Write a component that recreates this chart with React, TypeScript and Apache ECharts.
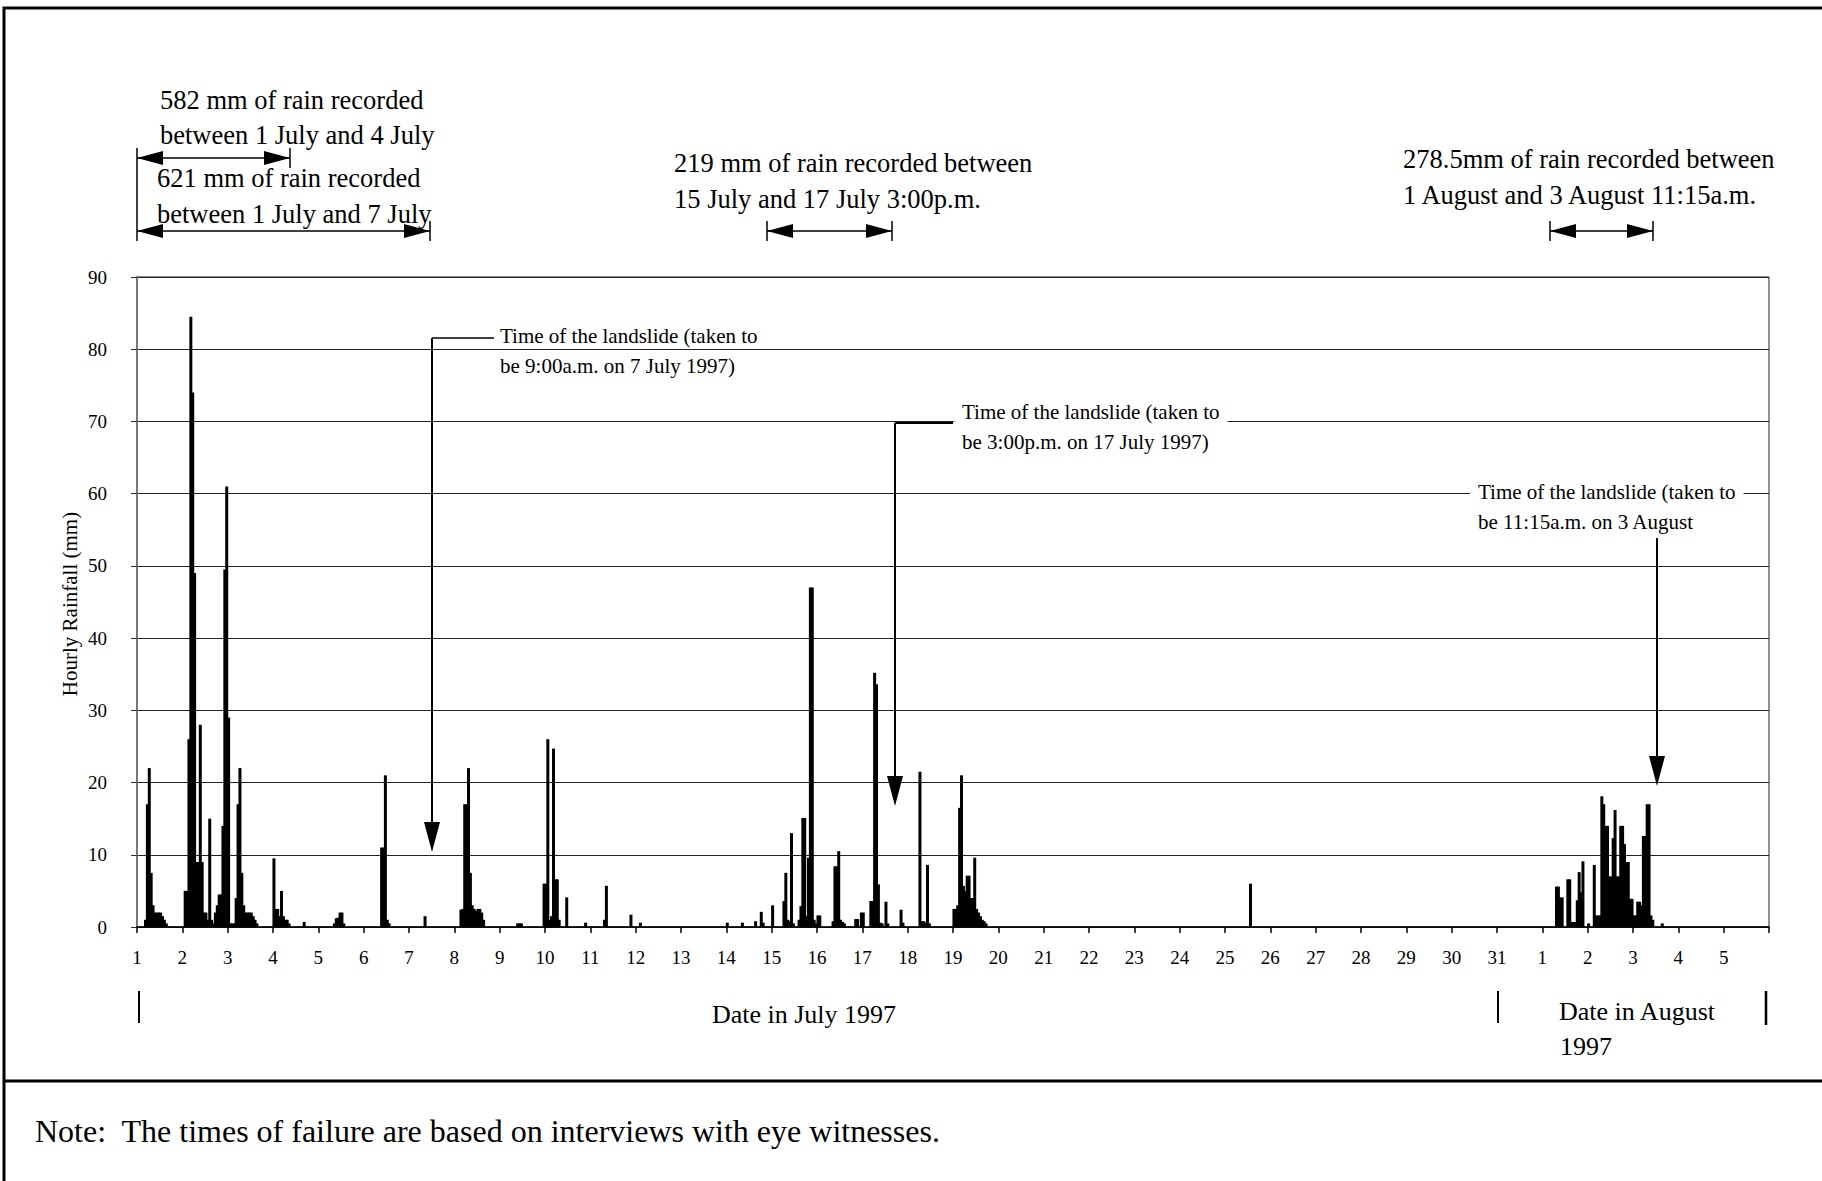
import React, { useEffect, useRef } from 'react';
import * as echarts from 'echarts';

// ---------------- DATA ----------------
// Hourly rainfall (mm). Pairs: [hour counted from 00:00 on 1 July 1997, rainfall mm]
const storm1to4July: [number, number][] = [
  [4, 1], [5, 17], [6, 22], [7, 7.5], [8, 3], [9, 2], [10, 2], [11, 2], [12, 2], [13, 1.5], [14, 1], [15, 0.5],
  [25, 5], [26, 5], [27, 26], [28, 84.5], [29, 74], [30, 49], [31, 9], [32, 9], [33, 28], [34, 9], [35, 2], [36, 2],
  [37, 1], [38, 15], [39, 1], [40, 0.5], [41, 2], [42, 3], [43, 4.5], [44, 4.5], [45, 14], [46, 49.5], [47, 61], [48, 29],
  [49, 0.5], [50, 0.5], [51, 0.5], [52, 4], [53, 17], [54, 22], [55, 7.5], [56, 3], [57, 2], [58, 2], [59, 2], [60, 2],
  [61, 1.5], [62, 1], [63, 0.5],
  [72, 9.5], [73, 2.5], [74, 2.5], [75, 1.5], [76, 5], [77, 1.5], [78, 1], [79, 1], [80, 0.5], [88, 0.7],
];
const storm5to12July: [number, number][] = [
  [104, 0.5], [105, 1.2], [106, 1.3], [107, 2], [108, 2], [109, 0.5],
  [129, 11], [130, 11], [131, 21], [132, 1], [133, 0.5],
  [152, 1.5],
  [171, 2.4], [172, 2.5], [173, 17], [174, 17], [175, 22], [176, 7.5], [177, 3], [178, 2.5], [179, 2.2], [180, 2.5],
  [181, 2.5], [182, 2], [183, 1],
  [201, 0.5], [202, 0.5], [203, 0.5],
  [215, 6], [216, 6], [217, 26], [218, 1], [219, 1.5], [220, 24.7], [221, 6.6], [222, 6.6], [223, 1], [227, 4.1],
  [237, 0.6], [247, 1], [248, 5.7], [261, 1.7], [266, 0.6],
];
const storm14to20July: [number, number][] = [
  [312, 0.6], [320, 0.6], [327, 0.8], [330, 2.1], [331, 0.6], [336, 3],
  [342, 3.6], [343, 7.5], [344, 1], [345, 0.8], [346, 13], [347, 0.5],
  [350, 1], [351, 2.9], [352, 15.1], [353, 15.1], [354, 1.5], [355, 9.6], [356, 47], [357, 47], [358, 1], [359, 0.5],
  [360, 1.6], [361, 1.6],
  [368, 0.8], [369, 8.4], [370, 8.4], [371, 10.5], [372, 1], [373, 0.7], [374, 0.5],
  [380, 1.1], [381, 1.1], [383, 2], [384, 2],
  [388, 3.6], [389, 3.6], [390, 35.2], [391, 33.6], [392, 5.9], [393, 0.6], [394, 0.5], [396, 3.5], [397, 0.5],
  [404, 2.4], [405, 0.6],
  [414, 21.5], [415, 0.8], [416, 0.8], [417, 0.6], [418, 8.6], [419, 0.5],
  [432, 2.5], [433, 2.5], [434, 3], [435, 16.5], [436, 21], [437, 5.7], [438, 5], [439, 7.1], [440, 7.1], [441, 4],
  [442, 4], [443, 9.6], [444, 2.5], [445, 2], [446, 1.5], [447, 1], [448, 0.8], [449, 0.5],
];
const storm25July: [number, number][] = [[589, 6]];
const storm1to3August: [number, number][] = [
  [751, 5.6], [752, 5.6], [753, 4.1], [754, 4.1], [757, 6.6], [758, 6.6], [759, 0.7], [760, 0.7], [761, 0.7],
  [762, 3.7], [763, 7.6], [764, 4.8], [765, 9.1], [768, 0.5],
  [771, 8.6], [772, 1.6], [773, 1.6], [774, 1.6], [775, 18.1], [776, 17], [777, 14], [778, 14], [779, 7], [780, 7],
  [781, 12.3], [782, 16.2], [783, 7], [784, 7], [785, 14], [786, 14], [787, 11.5], [788, 9], [789, 9], [790, 3.9],
  [791, 3.9], [792, 1.6], [793, 1.6], [794, 3.5], [795, 3.5], [796, 3], [797, 12.6], [798, 12.6], [799, 17], [800, 17],
  [801, 1.6], [802, 1], [807, 0.5],
];

// Day tick labels: 1..31 July, then 1..5 August, blank at right edge
const dayLabels: string[] = [
  '1', '2', '3', '4', '5', '6', '7', '8', '9', '10', '11', '12', '13', '14', '15', '16', '17', '18', '19', '20',
  '21', '22', '23', '24', '25', '26', '27', '28', '29', '30', '31',
  '1', '2', '3', '4', '5', '',
];

const yMin = 0;
const yMax = 90;
const yStep = 10;

// ---------------- LAYOUT ----------------
const W = 1822;
const H = 1181;
const PL = 137; // plot left
const PR = 1769; // plot right
const PT = 277; // plot top
const PB = 927; // plot bottom
const FONT = '"Liberation Serif", "Times New Roman", serif';

function hArrow(x1: number, x2: number, y: number, tickL: boolean, tickR: boolean, th = 10): any[] {
  const L = 26;
  const h = 7;
  const els: any[] = [
    { type: 'line', shape: { x1, y1: y, x2, y2: y }, style: { stroke: '#000', lineWidth: 1.5 } },
    { type: 'polygon', shape: { points: [[x1, y], [x1 + L, y - h], [x1 + L, y + h]] }, style: { fill: '#000' } },
    { type: 'polygon', shape: { points: [[x2, y], [x2 - L, y - h], [x2 - L, y + h]] }, style: { fill: '#000' } },
  ];
  if (tickL) els.push({ type: 'line', shape: { x1, y1: y - th, x2: x1, y2: y + th }, style: { stroke: '#000', lineWidth: 1.5 } });
  if (tickR) els.push({ type: 'line', shape: { x1: x2, y1: y - th, x2, y2: y + th }, style: { stroke: '#000', lineWidth: 1.5 } });
  return els;
}

function vArrow(x: number, y1: number, tip: number): any[] {
  const L = 30;
  const h = 8;
  return [
    { type: 'line', shape: { x1: x, y1, x2: x, y2: tip - L + 2 }, style: { stroke: '#000', lineWidth: 2 } },
    { type: 'polygon', shape: { points: [[x - h, tip - L], [x + h, tip - L], [x, tip]] }, style: { fill: '#000' } },
  ];
}

function txt(text: string, x: number, y: number, size: number, align = 'left', extra: any = {}): any {
  return {
    type: 'text',
    x,
    y,
    style: {
      text,
      fontSize: size,
      fontFamily: FONT,
      fill: '#000',
      textAlign: align,
      textVerticalAlign: 'middle',
      ...extra,
    },
  };
}

export default function App() {
  const ref = useRef<HTMLDivElement>(null);

  useEffect(() => {
    if (!ref.current) return;
    const chart = echarts.init(ref.current, null, { renderer: 'svg', width: W, height: H });

    const all = [...storm1to4July, ...storm5to12July, ...storm14to20July, ...storm25July, ...storm1to3August];
    const barData = all.map(([hr, mm]) => [1 + (hr + 0.5) / 24, mm]);

    const graphics: any[] = [
      // outer frame and separator
      { type: 'rect', shape: { x: 4, y: 8, width: W + 20, height: H + 20 }, style: { fill: 'none', stroke: '#000', lineWidth: 3 } },
      { type: 'line', shape: { x1: 4, y1: 1081, x2: W, y2: 1081 }, style: { stroke: '#000', lineWidth: 3 } },

      // top annotations
      txt('582 mm of rain recorded', 160, 100, 26.5),
      txt('between 1 July and 4 July', 160, 135, 26.5),
      txt('621 mm of rain recorded', 157, 178, 26.5),
      txt('between 1 July and 7 July', 157, 214, 26.5),
      { type: 'line', shape: { x1: PL, y1: 148, x2: PL, y2: 241 }, style: { stroke: '#000', lineWidth: 1.5 } },
      ...hArrow(PL, 290, 158, false, true),
      ...hArrow(PL, 430, 231, false, true),

      txt('219 mm of rain recorded between', 674, 163, 26.5),
      txt('15 July and 17 July 3:00p.m.', 674, 199, 26.5),
      ...hArrow(767, 892, 231, true, true),

      txt('278.5mm of rain recorded between', 1403, 159, 26.5),
      txt('1 August and 3 August 11:15a.m.', 1403, 195, 26.5),
      ...hArrow(1550, 1653, 231, true, true),

      // landslide 1
      { type: 'line', shape: { x1: 432, y1: 338, x2: 494, y2: 338 }, style: { stroke: '#000', lineWidth: 1.5 } },
      ...vArrow(432, 338, 852),
      txt('Time of the landslide (taken to', 500, 336, 21),
      txt('be 9:00a.m. on 7 July 1997)', 500, 366, 21),

      // landslide 2
      txt('Time of the landslide (taken to', 954, 412, 21, 'left', { backgroundColor: '#fff', padding: [2, 8, 2, 8] }),
      txt('be 3:00p.m. on 17 July 1997)', 962, 442, 21),
      { type: 'line', shape: { x1: 895, y1: 423, x2: 953, y2: 423 }, style: { stroke: '#000', lineWidth: 2 } },
      ...vArrow(895, 423, 806),

      // landslide 3
      txt('Time of the landslide (taken to', 1470, 492, 21, 'left', { backgroundColor: '#fff', padding: [2, 8, 2, 8] }),
      txt('be 11:15a.m. on 3 August', 1478, 522, 21),
      ...vArrow(1657, 538, 786),

      // axis titles
      {
        type: 'text',
        x: 70,
        y: 604,
        rotation: Math.PI / 2,
        style: {
          text: 'Hourly Rainfall (mm)',
          fontSize: 21,
          fontFamily: FONT,
          fill: '#000',
          textAlign: 'center',
          textVerticalAlign: 'middle',
        },
      },
      txt('Date in July 1997', 804, 1014, 26, 'center'),
      txt('Date in August', 1559, 1011, 26),
      txt('1997', 1560, 1046, 26),
      { type: 'line', shape: { x1: 139, y1: 991, x2: 139, y2: 1023 }, style: { stroke: '#000', lineWidth: 2 } },
      { type: 'line', shape: { x1: 1498, y1: 991, x2: 1498, y2: 1023 }, style: { stroke: '#000', lineWidth: 2 } },
      { type: 'line', shape: { x1: 1766, y1: 991, x2: 1766, y2: 1025 }, style: { stroke: '#000', lineWidth: 2.5 } },

      // note
      txt('Note:  The times of failure are based on interviews with eye witnesses.', 35, 1131, 32),
    ];

    chart.setOption({
      animation: false,
      backgroundColor: '#fff',
      grid: {
        left: PL,
        top: PT,
        right: W - PR,
        bottom: H - PB,
        show: true,
        borderColor: '#222',
        borderWidth: 1,
        containLabel: false,
      },
      xAxis: {
        type: 'value',
        min: 1,
        max: 37,
        interval: 1,
        axisLine: { show: true, onZero: false, lineStyle: { color: '#000', width: 1.5 } },
        axisTick: { show: true, inside: false, length: 6, lineStyle: { color: '#000', width: 1.5 } },
        axisLabel: {
          margin: 21,
          fontSize: 19,
          fontFamily: FONT,
          color: '#000',
          showMinLabel: true,
          showMaxLabel: true,
          formatter: (v: number) => dayLabels[Math.round(v) - 1] ?? '',
        },
        splitLine: { show: false },
      },
      yAxis: {
        type: 'value',
        min: yMin,
        max: yMax,
        interval: yStep,
        axisLine: { show: true, lineStyle: { color: '#777', width: 2 } },
        axisTick: { show: true, inside: false, length: 6, lineStyle: { color: '#333', width: 1 } },
        axisLabel: { margin: 30, fontSize: 19, fontFamily: FONT, color: '#000' },
        splitLine: { show: true, lineStyle: { color: '#222', width: 1 } },
      },
      series: [
        {
          type: 'bar',
          data: barData,
          barWidth: 3,
          itemStyle: { color: '#000' },
          emphasis: { disabled: true },
          z: 5,
        },
      ],
      graphic: { elements: graphics.map((g) => ({ ...g, z: 100 })) },
    });

    return () => chart.dispose();
  }, []);

  return <div ref={ref} style={{ position: 'absolute', left: 0, top: 0, width: W, height: H, background: '#fff' }} />;
}
